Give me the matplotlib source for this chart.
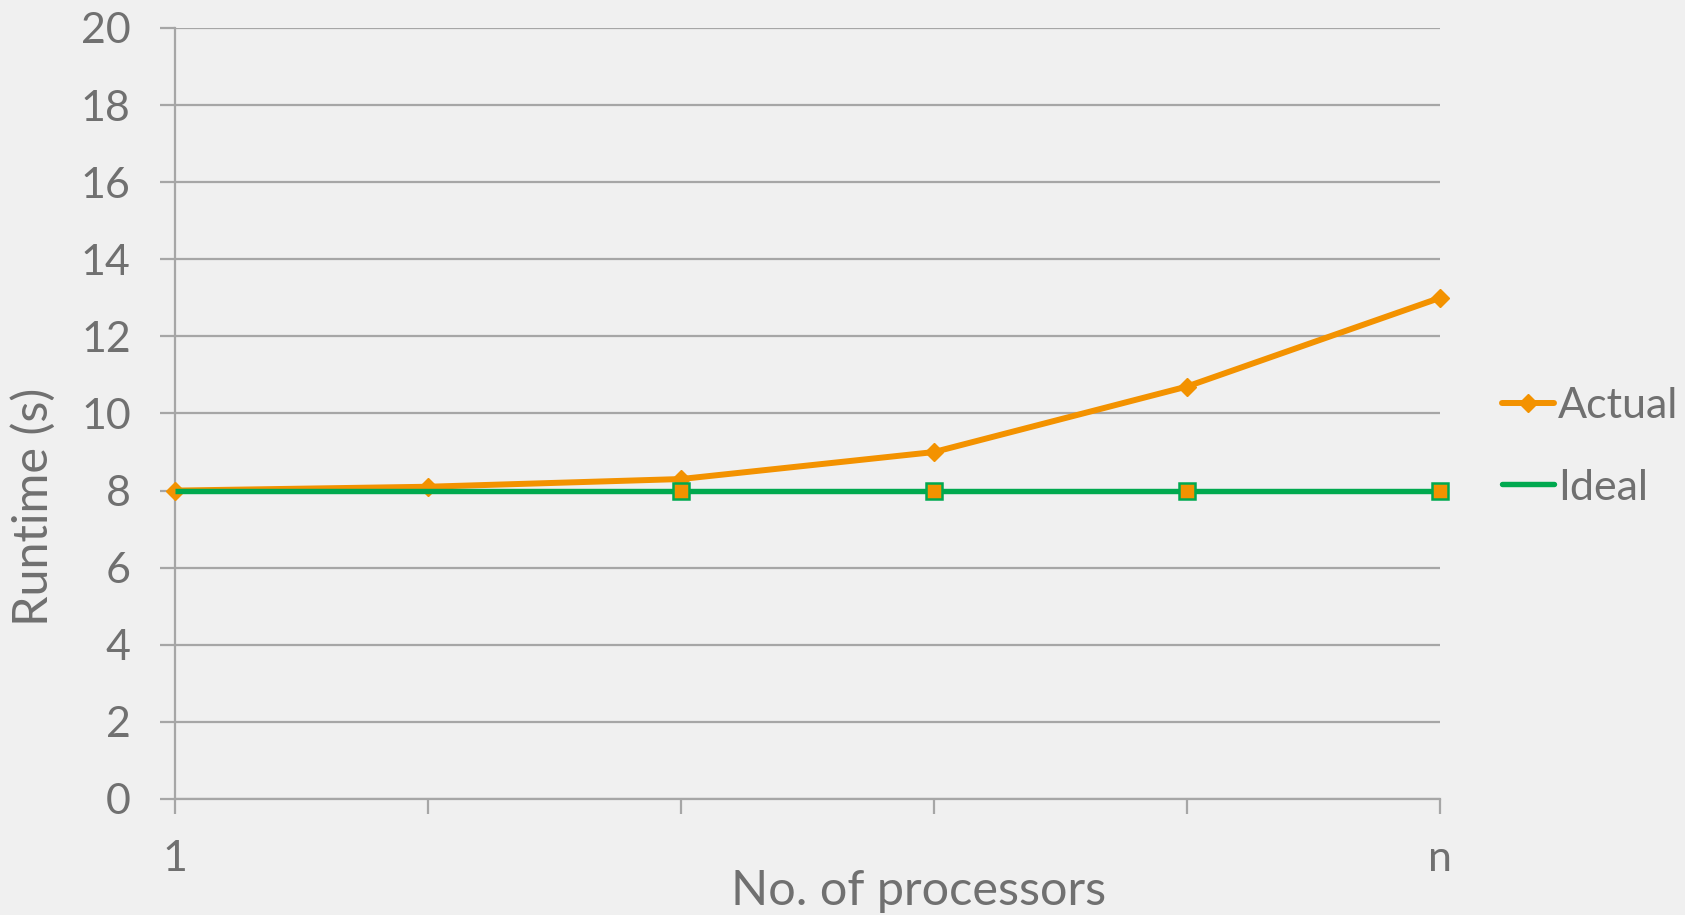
import matplotlib
matplotlib.use("Agg")
import matplotlib.pyplot as plt
from matplotlib.lines import Line2D

# Data
processors = ["1", "", "", "", "", "n"]
actual = [8.0, 8.1, 8.3, 9.0, 10.7, 13.0]
ideal = [8.0, 8.0, 8.0, 8.0, 8.0, 8.0]
ideal_marked = [2, 3, 4, 5]          # points on the ideal series drawn with square markers
y_ticks = [0, 2, 4, 6, 8, 10, 12, 14, 16, 18, 20]

ORANGE = "#F39200"
GREEN = "#00A94F"
GRID = "#A6A6A6"
TEXT = "#707070"
BG = "#F0F0F0"

plt.rcParams["font.family"] = ["Lato", "DejaVu Sans"]

W, H = 1685, 915
fig = plt.figure(figsize=(W / 100, H / 100), dpi=100, facecolor=BG)
ax = fig.add_axes([175 / W, 1 - 799 / H, (1440 - 175) / W, (799 - 28) / H])
ax.set_facecolor(BG)

x = list(range(len(processors)))

ax.plot(x, actual, color=ORANGE, lw=4.3, marker="D", ms=9.5, mec=ORANGE,
        mfc=ORANGE, zorder=3, solid_capstyle="butt", clip_on=False)
ax.plot(x, ideal, color=GREEN, lw=3.9, zorder=4, solid_capstyle="butt", clip_on=False)
ax.plot([x[i] for i in ideal_marked], [ideal[i] for i in ideal_marked],
        ls="none", marker="s", ms=11.5, mfc=ORANGE, mec=GREEN, mew=1.8, zorder=5,
        clip_on=False)

ax.set_xlim(0, len(processors) - 1)
ax.set_ylim(0, 20)
ax.set_yticks(y_ticks)
ax.set_xticks(x)
ax.set_xticklabels(processors)

ax.yaxis.grid(True, color=GRID, lw=1.6)
ax.set_axisbelow(True)
for s in ("top", "right"):
    ax.spines[s].set_visible(False)
for s in ("left", "bottom"):
    ax.spines[s].set_color(GRID)
    ax.spines[s].set_linewidth(1.6)

ax.tick_params(axis="both", direction="out", length=10.8, width=1.6, color=GRID,
               labelcolor=TEXT, labelsize=31)
ax.tick_params(axis="y", pad=21)
ax.tick_params(axis="x", pad=19)

fig.text(33 / W, 1 - 507 / H, "Runtime (s)", rotation=90, ha="center", va="center",
         color=TEXT, fontsize=35)
fig.text(919 / W, 1 - 905 / H, "No. of processors", ha="center", va="baseline",
         color=TEXT, fontsize=35)

handles = [
    Line2D([], [], color=ORANGE, lw=4.3, marker="D", ms=9, solid_capstyle="round"),
    Line2D([], [], color=GREEN, lw=3.9, solid_capstyle="round"),
]
leg = fig.legend(handles, ["Actual", "Ideal"], loc="center left",
                 bbox_to_anchor=(1502 / W, 1 - 447 / H), frameon=False,
                 fontsize=31, handlelength=1.2, handletextpad=0.1,
                 labelspacing=1.0, borderpad=0, borderaxespad=0)
for t in leg.get_texts():
    t.set_color(TEXT)

fig.savefig("out.png", dpi=100, facecolor=BG)
